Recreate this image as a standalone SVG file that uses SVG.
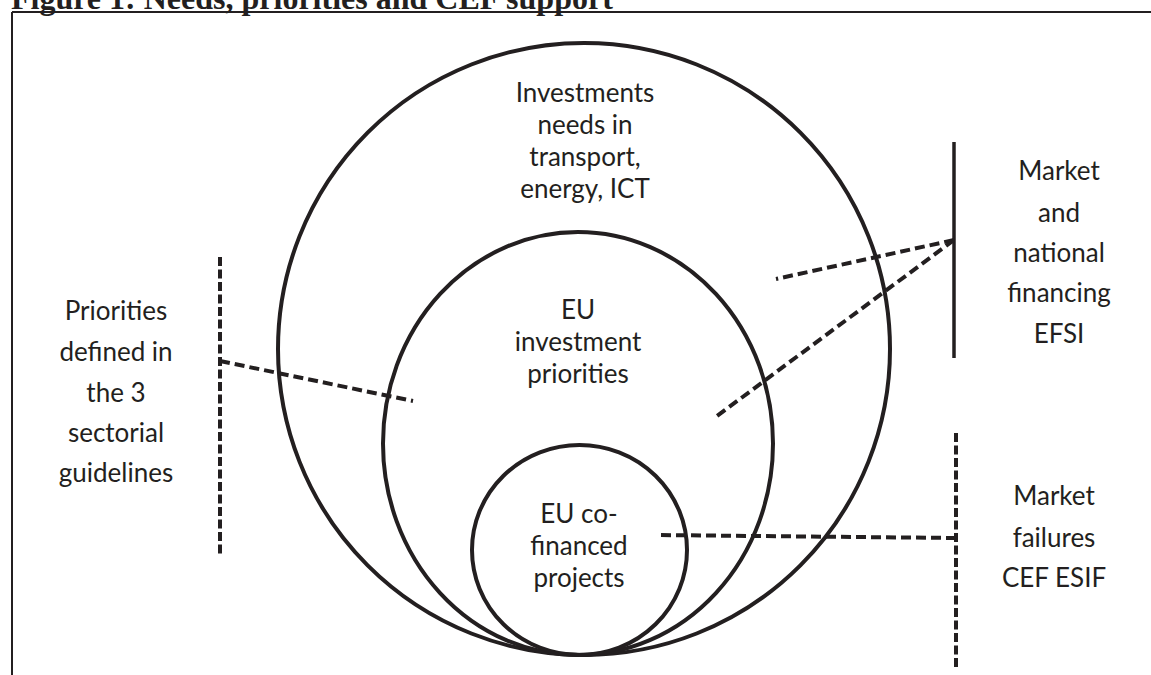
<svg xmlns="http://www.w3.org/2000/svg" width="1151" height="675" viewBox="0 0 1151 675">
<style>
.lbl{font-family:Lato,"Open Sans","Liberation Sans",sans-serif;font-size:26px;fill:#231f20;text-anchor:middle}
.ring{fill:none;stroke:#231f20;stroke-width:4}
.dash{fill:none;stroke:#231f20;stroke-width:4;stroke-dasharray:9 3.5}
.conn{fill:none;stroke:#231f20;stroke-width:4;stroke-dasharray:10 5}
.title{font-family:"Liberation Serif","Times New Roman",serif;font-weight:bold;font-size:32px;fill:#231f20}
</style>
<rect width="1151" height="675" fill="#fff"/>
<text class="title" x="11" y="9">Figure 1: Needs, priorities and CEF support</text>
<path d="M12 12 H1151 M12 12 V675" fill="none" stroke="#231f20" stroke-width="2"/>
<g id="needs">
<circle class="ring" cx="584" cy="349" r="306"/>
<text class="lbl" x="585" y="102">Investments</text>
<text class="lbl" x="585" y="134">needs in</text>
<text class="lbl" x="585" y="166">transport,</text>
<text class="lbl" x="585" y="198">energy, ICT</text>
</g>
<g id="priorities">
<ellipse class="ring" cx="578" cy="443.5" rx="195" ry="211.5"/>
<text class="lbl" x="578" y="319">EU</text>
<text class="lbl" x="578" y="351">investment</text>
<text class="lbl" x="578" y="383">priorities</text>
</g>
<g id="projects">
<ellipse class="ring" cx="579.5" cy="550" rx="107.5" ry="105"/>
<text class="lbl" x="579" y="523">EU co-</text>
<text class="lbl" x="579" y="555">financed</text>
<text class="lbl" x="579" y="587">projects</text>
</g>
<g id="guidelines">
<text class="lbl" x="116" y="320">Priorities</text>
<text class="lbl" x="116" y="361">defined in</text>
<text class="lbl" x="116" y="402">the 3</text>
<text class="lbl" x="116" y="442">sectorial</text>
<text class="lbl" x="116" y="482">guidelines</text>
</g>
<g id="market-national">
<text class="lbl" x="1059" y="180">Market</text>
<text class="lbl" x="1059" y="222">and</text>
<text class="lbl" x="1059" y="262">national</text>
<text class="lbl" x="1059" y="302">financing</text>
<text class="lbl" x="1059" y="343">EFSI</text>
</g>
<g id="market-failures">
<text class="lbl" x="1054" y="505">Market</text>
<text class="lbl" x="1054" y="547">failures</text>
<text class="lbl" x="1054" y="587">CEF ESIF</text>
</g>
<g id="connectors">
<line class="dash" x1="220" y1="257" x2="220" y2="555"/>
<line x1="954" y1="142" x2="954" y2="358" stroke="#231f20" stroke-width="3.5"/>
<line class="dash" x1="956" y1="433" x2="956" y2="668"/>
<line class="conn" x1="220" y1="361" x2="413" y2="401"/>
<line class="conn" x1="954" y1="240" x2="776" y2="279"/>
<line class="conn" x1="954" y1="240" x2="717" y2="416"/>
<line class="conn" x1="956" y1="538" x2="657" y2="535"/>
</g>
</svg>
